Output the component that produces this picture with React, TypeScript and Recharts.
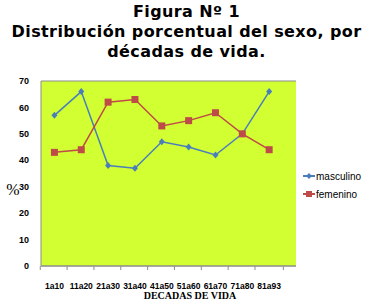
import React from 'react';
import { LineChart, Line, XAxis, YAxis, CartesianGrid } from 'recharts';

const categories = ['1a10', '11a20', '21a30', '31a40', '41a50', '51a60', '61a70', '71a80', '81a93'];
const masculino = [57, 66, 38, 37, 47, 45, 42, 50, 66];
const femenino = [43, 44, 62, 63, 53, 55, 58, 50, 44];
const yTicks = [0, 10, 20, 30, 40, 50, 60, 70];

const data = categories.map((c, i) => ({ idx: i, name: c, masculino: masculino[i], femenino: femenino[i] }));
const xTicks = categories.map((_, i) => i);

const BLUE = '#4a7ebb';
const RED = '#be4b48';
const GRID = '#8c8c8c';
const HALF = 255 / 9 / 2;

const Diamond = (props: any) => {
  const { cx, cy } = props;
  if (cx == null || cy == null) return null;
  return <path d={`M${cx},${cy - 3.5}L${cx + 3},${cy}L${cx},${cy + 3.5}L${cx - 3},${cy}Z`} fill={BLUE} />;
};
const Square = (props: any) => {
  const { cx, cy } = props;
  if (cx == null || cy == null) return null;
  return <rect x={cx - 3.5} y={cy - 3.5} width={7} height={7} fill={RED} />;
};

const XTick = (props: any) => {
  const { x, y, payload } = props;
  const i = payload.value as number;
  const last = i === categories.length - 1;
  return (
    <g>
      <line x1={x - HALF} y1={y} x2={x - HALF} y2={y + 4} stroke={GRID} />
      {last && <line x1={x + HALF} y1={y} x2={x + HALF} y2={y + 4} stroke={GRID} />}
      <text x={x} y={y + 23} textAnchor="middle" fill="#000" fontSize={8.5} fontWeight="bold"
        fontFamily="Liberation Sans, Arial, sans-serif">{categories[i]}</text>
    </g>
  );
};

const legendItems = [
  { n: 'masculino', c: BLUE, sq: false },
  { n: 'femenino', c: RED, sq: true },
];

export default function App() {
  return (
    <div style={{ position: 'absolute', left: 0, top: 0, width: 373, height: 308, background: '#fff' }}>
      <div style={{ position: 'absolute', left: 0, top: 2, width: 373, textAlign: 'center', fontFamily: 'DejaVu Sans, sans-serif', fontWeight: 'bold', fontSize: 16, letterSpacing: 0.4, lineHeight: '20px', color: '#000' }}>
        Figura Nº 1<br />Distribución porcentual del sexo, por<br />décadas de vida.
      </div>
      <LineChart width={373} height={308} data={data} margin={{ top: 81, right: 77, bottom: 0, left: 8 }}>
        <CartesianGrid vertical={false} stroke={GRID} fill="#d2ff32" fillOpacity={1} />
        <XAxis dataKey="idx" type="number" domain={[-0.5, 8.5]} ticks={xTicks} height={42} stroke={GRID}
          tickLine={false} tickSize={0} tickMargin={0} tick={<XTick />} interval={0} allowDecimals={false} />
        <YAxis yAxisId="l" width={33} domain={[0, 70]} ticks={yTicks} stroke={GRID} tickLine={false}
          tick={{ fill: '#000', fontSize: 9, fontWeight: 'bold', fontFamily: 'Liberation Sans, Arial, sans-serif' }}
          tickMargin={6} />
        <YAxis yAxisId="r" orientation="right" width={0} domain={[0, 70]} ticks={yTicks} stroke={GRID} tick={false} tickLine={false} />
        <Line yAxisId="l" type="linear" dataKey="masculino" stroke={BLUE} strokeWidth={1.5} dot={<Diamond />} activeDot={false} isAnimationActive={false} />
        <Line yAxisId="l" type="linear" dataKey="femenino" stroke={RED} strokeWidth={1.5} dot={<Square />} activeDot={false} isAnimationActive={false} />
      </LineChart>
      <div style={{ position: 'absolute', left: 303, top: 167, width: 70, fontFamily: 'Liberation Sans, Arial, sans-serif', fontSize: 10, color: '#000' }}>
        {legendItems.map((it) => (
          <div key={it.n} style={{ display: 'flex', alignItems: 'center', height: 18 }}>
            <svg width={12} height={8} style={{ marginRight: 1 }}>
              <line x1={0} y1={4} x2={12} y2={4} stroke={it.c} strokeWidth={2} />
              {it.sq ? <rect x={3} y={1} width={6} height={6} fill={it.c} /> : <path d="M6,1L9,4L6,7L3,4Z" fill={it.c} />}
            </svg>
            <span>{it.n}</span>
          </div>
        ))}
      </div>
      <div style={{ position: 'absolute', left: 0, top: 181, width: 26, textAlign: 'center', fontFamily: 'Liberation Serif, Times New Roman, serif', fontSize: 16, color: '#000' }}>%</div>
      <div style={{ position: 'absolute', left: 100, top: 290, width: 180, textAlign: 'center', fontFamily: 'Liberation Serif, Times New Roman, serif', fontWeight: 'bold', fontSize: 10, color: '#000' }}>DECADAS DE VIDA</div>
    </div>
  );
}
